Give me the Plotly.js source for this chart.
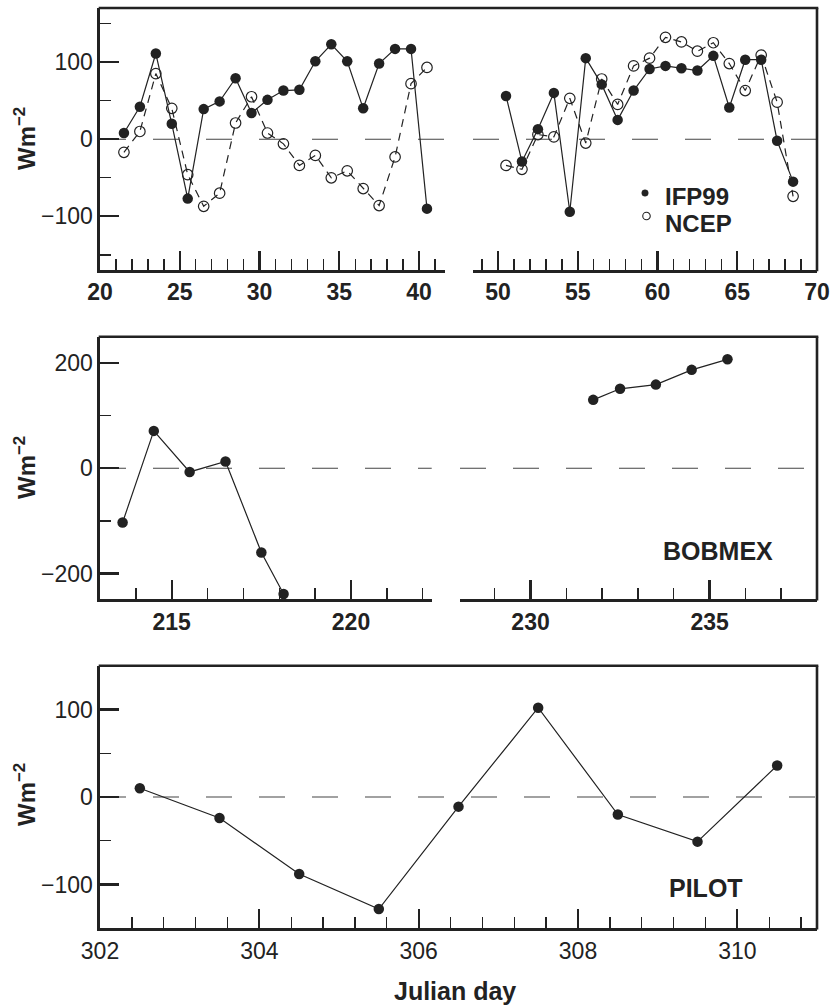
<!DOCTYPE html>
<html>
<head>
<meta charset="utf-8">
<script src="https://cdn.plot.ly/plotly-3.0.1.min.js"></script>
<style>html,body{margin:0;padding:0;background:#fff}#chart{width:830px;height:1007px}</style>
</head>
<body>
<div id="chart"></div>
<script>
// ---- Data ----
// Panel 1, first period (Julian days 21.5 - 40.5)
const daysJan = [21.5, 22.5, 23.5, 24.5, 25.5, 26.5, 27.5, 28.5, 29.5, 30.5, 31.5, 32.5, 33.5, 34.5, 35.5, 36.5, 37.5, 38.5, 39.5, 40.5];
const ifp99Jan = [8, 42, 111, 20, -77, 39, 49, 79, 34, 51, 63, 64, 101, 123, 101, 40, 98, 117, 117, -90];
const ncepJan = [-17, 10, 85, 40, -46, -87, -70, 21, 55, 8, -6, -34, -21, -50, -41, -64, -86, -23, 72, 93];
// Panel 1, second period (Julian days 50.5 - 68.5)
const daysFeb = [50.5, 51.5, 52.5, 53.5, 54.5, 55.5, 56.5, 57.5, 58.5, 59.5, 60.5, 61.5, 62.5, 63.5, 64.5, 65.5, 66.5, 67.5, 68.5];
const ifp99Feb = [56, -29, 13, 60, -94, 105, 71, 25, 63, 91, 95, 92, 89, 108, 41, 103, 103, -2, -55];
const ncepFeb = [-34, -39, 6, 3, 53, -5, 78, 45, 95, 105, 132, 126, 114, 125, 98, 63, 109, 48, -74];
// Panel 2, BOBMEX
const daysBob1 = [213.63, 214.5, 215.5, 216.5, 217.5, 218.12];
const bobmex1 = [-103, 71, -7, 13, -160, -239];
const daysBob2 = [231.75, 232.5, 233.5, 234.5, 235.5];
const bobmex2 = [130, 151, 159, 187, 207];
// Panel 3, PILOT
const daysPilot = [302.5, 303.5, 304.5, 305.5, 306.5, 307.5, 308.5, 309.5, 310.5];
const pilot = [10, -24, -88, -128, -11, 102, -20, -51, 36];

const seriesNames = ['IFP99', 'NCEP'];
const panelLabels = ['BOBMEX', 'PILOT'];
const yTitle = 'Wm<sup>\u22122</sup>';
const xTitle = 'Julian day';

// ---- Layout helpers (pixel -> paper) ----
const W = 830, H = 1007;
const px = v => v / W;
const py = v => 1 - v / H;
const INK = '#222';
const FONT = 'Liberation Sans, Arial, Helvetica, sans-serif';

const dom = {
  top: [py(270), py(8)],
  mid: [py(599.3), py(336.7)],
  bot: [py(928.3), py(665.7)],
  xTL: [px(100), px(445)],
  xTR: [px(473), px(817)],
  xML: [px(100), px(431.7)],
  xMR: [px(460), px(817)],
  xB: [px(100), px(817)]
};

function xAxis(domain, range, anchor, dtick, minorDtick, bold, tick0) {
  return {
    domain, range, anchor,
    showline: true, linewidth: 2.6, linecolor: INK,
    ticks: 'inside', ticklen: 19, tickwidth: 2.2, tickcolor: INK,
    dtick, tick0: tick0,
    minor: {ticks: 'inside', ticklen: 11, tickwidth: 1.4, tickcolor: INK, dtick: minorDtick, tick0: tick0},
    showgrid: false, zeroline: false, fixedrange: true,
    tickfont: {family: FONT, size: 23, color: INK, weight: bold ? 'bold' : 'normal'}
  };
}
function yAxis(domain, range, anchor, dtick, minorDtick, visible) {
  return {
    domain, range, anchor, visible,
    showline: true, linewidth: 2.6, linecolor: INK,
    ticks: 'inside', ticklen: 19, tickwidth: 2.2, tickcolor: INK,
    dtick, tick0: 0,
    minor: {ticks: 'inside', ticklen: 11, tickwidth: 1.4, tickcolor: INK, dtick: minorDtick, tick0: 0},
    showgrid: false, zeroline: false, fixedrange: true,
    tickfont: {family: FONT, size: 23, color: INK}
  };
}

const filled = {size: 10.5, color: INK};
const hollow = {size: 10.5, symbol: 'circle-open', color: INK, line: {width: 1.2, color: INK}};
const solid = {color: INK, width: 1.2};
const dashed = {color: INK, width: 1.2, dash: '8px,6px'};

const traces = [
  {x: daysJan, y: ncepJan, xaxis: 'x', yaxis: 'y', mode: 'lines+markers', line: dashed, marker: hollow, name: seriesNames[1]},
  {x: daysJan, y: ifp99Jan, xaxis: 'x', yaxis: 'y', mode: 'lines+markers', line: solid, marker: filled, name: seriesNames[0]},
  {x: daysFeb, y: ncepFeb, xaxis: 'x2', yaxis: 'y2', mode: 'lines+markers', line: dashed, marker: hollow, name: seriesNames[1]},
  {x: daysFeb, y: ifp99Feb, xaxis: 'x2', yaxis: 'y2', mode: 'lines+markers', line: solid, marker: filled, name: seriesNames[0]},
  {x: daysBob1, y: bobmex1, xaxis: 'x3', yaxis: 'y3', mode: 'lines+markers', line: solid, marker: filled, name: panelLabels[0]},
  {x: daysBob2, y: bobmex2, xaxis: 'x4', yaxis: 'y4', mode: 'lines+markers', line: solid, marker: filled, name: panelLabels[0]},
  {x: daysPilot, y: pilot, xaxis: 'x5', yaxis: 'y5', mode: 'lines+markers', line: solid, marker: filled, name: panelLabels[1]}
];

function zeroLine(xr, yr) {
  return {type: 'line', xref: xr + ' domain', yref: yr, x0: 0, x1: 1, y0: 0, y1: 0,
          line: {color: '#444', width: 1.1, dash: '26px,27px'}, layer: 'below'};
}
function frameLine(x0, y0, x1, y1) {
  return {type: 'line', xref: 'paper', yref: 'paper', x0: px(x0), y0: py(y0), x1: px(x1), y1: py(y1),
          line: {color: INK, width: 2.6}};
}
function legendDot(cx, cy, d, open) {
  return {type: 'circle', xref: 'paper', yref: 'paper',
          x0: px(cx - d / 2), x1: px(cx + d / 2), y0: py(cy + d / 2), y1: py(cy - d / 2),
          fillcolor: open ? 'rgba(0,0,0,0)' : INK, line: {color: INK, width: open ? 1.1 : 0.5}};
}
function ann(x, y, text, size, extra) {
  return Object.assign({xref: 'paper', yref: 'paper', x: px(x), y: py(y), text, showarrow: false,
    font: {family: FONT, size, color: INK, weight: 'bold'}, xanchor: 'center', yanchor: 'middle'}, extra || {});
}

const layout = {
  width: W, height: H,
  margin: {l: 0, r: 0, t: 0, b: 0},
  paper_bgcolor: '#fff', plot_bgcolor: 'rgba(0,0,0,0)',
  font: {family: FONT, color: INK},
  showlegend: false,
  xaxis: xAxis(dom.xTL, [20, 41.63], 'y', 5, 1, true, 20),
  yaxis: yAxis(dom.top, [-169.5, 170], 'x', 100, 50, true),
  xaxis2: xAxis(dom.xTR, [48.43, 70], 'y2', 5, 1, true, 50),
  yaxis2: yAxis(dom.top, [-169.5, 170], 'x2', 100, 50, false),
  xaxis3: xAxis(dom.xML, [213, 222.25], 'y3', 5, 1, true, 215),
  yaxis3: yAxis(dom.mid, [-249, 250], 'x3', 200, 100, true),
  xaxis4: xAxis(dom.xMR, [228.03, 238], 'y4', 5, 1, true, 230),
  yaxis4: yAxis(dom.mid, [-249, 250], 'x4', 200, 100, false),
  xaxis5: xAxis(dom.xB, [302, 311], 'y5', 2, 0.4, false, 302),
  yaxis5: yAxis(dom.bot, [-150, 150], 'x5', 100, 50, true),
  shapes: [
    zeroLine('x', 'y'), zeroLine('x2', 'y2'), zeroLine('x3', 'y3'), zeroLine('x4', 'y4'), zeroLine('x5', 'y5'),
    frameLine(98.7, 8, 818.3, 8), frameLine(817, 8, 817, 271.3),
    frameLine(98.7, 336.7, 818.3, 336.7), frameLine(817, 336.7, 817, 600.6),
    frameLine(98.7, 665.7, 818.3, 665.7), frameLine(817, 665.7, 817, 929.6),
    legendDot(645, 193, 6.5, false), legendDot(646.5, 216, 7.5, true)
  ],
  annotations: [
    ann(25, 139, yTitle, 24, {textangle: -90}),
    ann(25, 468, yTitle, 24, {textangle: -90}),
    ann(25, 795, yTitle, 24, {textangle: -90}),
    ann(663, 196, seriesNames[0], 24, {xanchor: 'left'}),
    ann(663, 223, seriesNames[1], 24, {xanchor: 'left'}),
    ann(718, 551, panelLabels[0], 25),
    ann(706, 888, panelLabels[1], 25),
    ann(455, 991, xTitle, 25)
  ]
};

Plotly.newPlot('chart', traces, layout, {staticPlot: true, displayModeBar: false});
</script>
</body>
</html>
